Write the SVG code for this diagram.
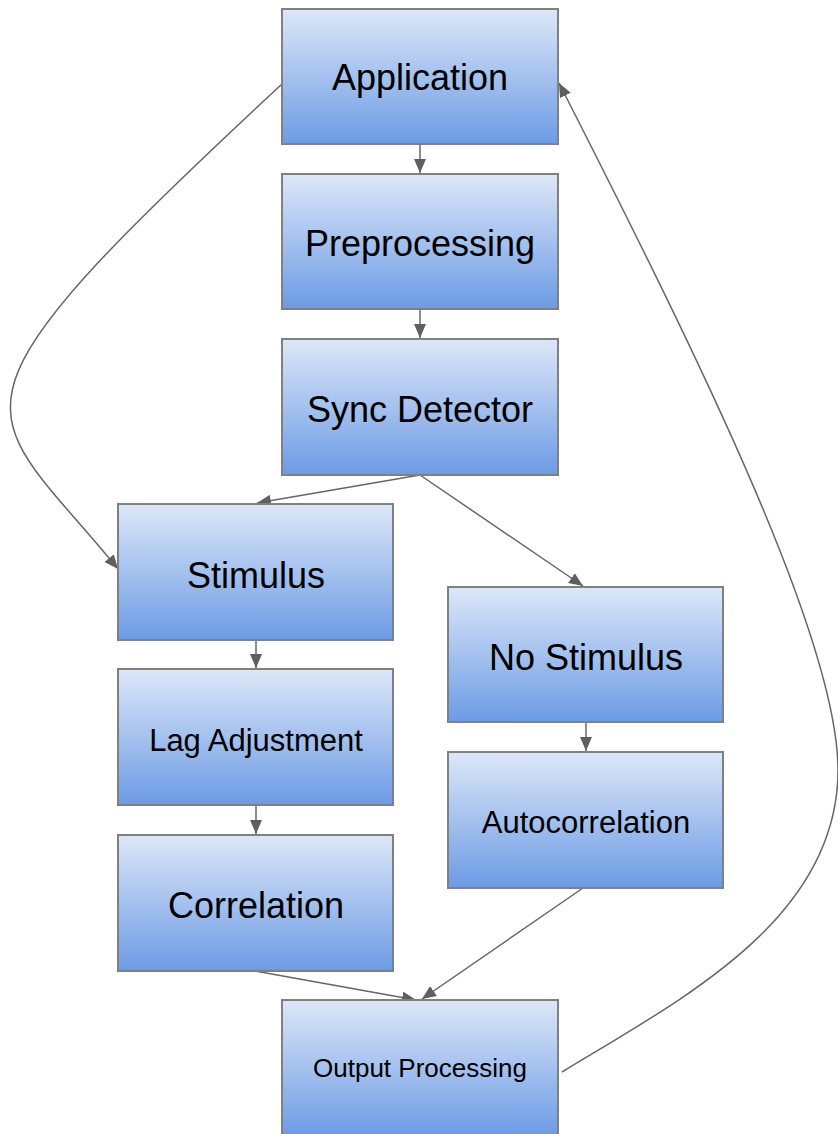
<svg xmlns="http://www.w3.org/2000/svg" width="838" height="1134" viewBox="0 0 838 1134">
<defs>
<linearGradient id="g" x1="0" y1="0" x2="0" y2="1">
<stop offset="0" stop-color="#dde7f8"/>
<stop offset="1" stop-color="#6c9be5"/>
</linearGradient>
<marker id="ah" markerUnits="userSpaceOnUse" markerWidth="15" markerHeight="13" refX="14" refY="6" orient="auto">
<path d="M0,0 L14,6 L0,12 z" fill="#5f5f5f"/>
</marker>
<style>
.box{fill:url(#g);stroke:#808080;stroke-width:2}
.t{font-family:"Liberation Sans",Arial,sans-serif;fill:#000;text-anchor:middle;dominant-baseline:central}
.e{fill:none;stroke:#666;stroke-width:1.5;marker-end:url(#ah)}
</style>
</defs>
<rect width="838" height="1134" fill="#fff"/>
<g id="connectors">
<path class="e" d="M420,144 L420,173"/>
<path class="e" d="M420,309 L420,338"/>
<path class="e" d="M420,475 L257,503"/>
<path class="e" d="M420,475 L583,586"/>
<path class="e" d="M256,640 L256,668"/>
<path class="e" d="M256,806 L256,834"/>
<path class="e" d="M586,723 L586,751"/>
<path class="e" d="M255,971 L416,1000"/>
<path class="e" d="M583,888 L422,999"/>
<path class="e" d="M282,84 C-80,420 -20,400 118,569"/>
<path class="e" d="M562,1072 C680,1000 838,920 838,770 C838,640 700,360 559,83"/>
</g>
<g id="application"><rect class="box" x="282" y="9" width="276" height="135"/><text class="t" x="420" y="77" font-size="36">Application</text></g>
<g id="preprocessing"><rect class="box" x="282" y="174" width="276" height="135"/><text class="t" x="420" y="243" font-size="36">Preprocessing</text></g>
<g id="sync-detector"><rect class="box" x="282" y="339" width="276" height="136"/><text class="t" x="420" y="409" font-size="36">Sync Detector</text></g>
<g id="stimulus"><rect class="box" x="118" y="504" width="275" height="136"/><text class="t" x="256" y="575" font-size="36">Stimulus</text></g>
<g id="lag-adjustment"><rect class="box" x="118" y="669" width="275" height="136"/><text class="t" x="256" y="740" font-size="31">Lag Adjustment</text></g>
<g id="correlation"><rect class="box" x="118" y="835" width="275" height="136"/><text class="t" x="256" y="905" font-size="36">Correlation</text></g>
<g id="no-stimulus"><rect class="box" x="448" y="587" width="275" height="135"/><text class="t" x="586" y="657" font-size="36">No Stimulus</text></g>
<g id="autocorrelation"><rect class="box" x="448" y="752" width="275" height="136"/><text class="t" x="586" y="822" font-size="31">Autocorrelation</text></g>
<g id="output-processing"><rect class="box" x="282" y="1000" width="276" height="136"/><text class="t" x="420" y="1068" font-size="26">Output Processing</text></g>
</svg>
